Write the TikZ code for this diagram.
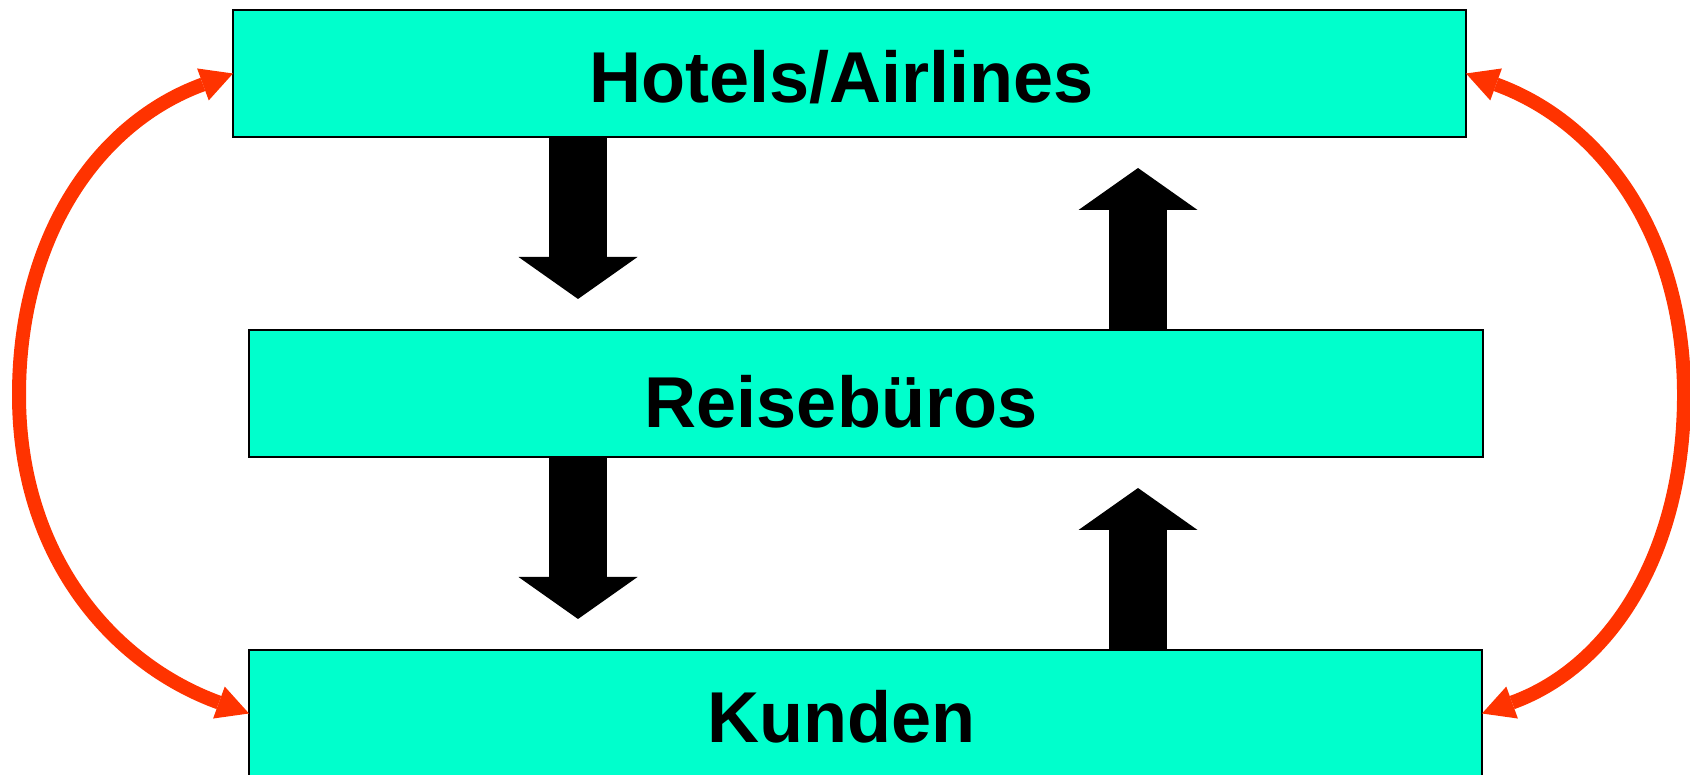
\documentclass[tikz,border=0pt]{standalone}
\usepackage{fontspec}
\setmainfont{Liberation Sans}
\usetikzlibrary{arrows.meta,positioning,calc}
\definecolor{boxgreen}{RGB}{0,255,204}
\definecolor{linkred}{RGB}{255,51,0}
\tikzset{
  stage/.style={rectangle, draw=black, line width=0.6pt, fill=boxgreen, minimum width=12.33cm, minimum height=1.27cm, inner sep=0pt, outer sep=0pt, text height=0.58cm, text depth=0pt, font=\bfseries\fontsize{20.5}{24}\selectfont},
  bigarrow/.style={line width=0.58cm, -{Triangle[length=0.42cm, width=1.19cm, line width=0pt]}},
  backlink/.style={draw=linkred, line width=0.14cm, {Triangle[length=0.32cm, width=0.34cm, line width=0pt]}-{Triangle[length=0.32cm, width=0.34cm, line width=0pt]}}
}
\begin{document}
\begin{tikzpicture}
\useasboundingbox (0,0) rectangle (16.90,-7.75);

% the three levels
\node[stage] (hotels) at (8.495,-0.735) {Hotels/Airlines\hspace*{0.16cm}};
\node[stage, minimum width=12.34cm, text height=0.69cm] (reise) at (8.66,-3.935) {Reisebüros\hspace*{0.5cm}};
\node[stage] (kunden) at (8.655,-7.135) {Kunden\hspace*{0.48cm}};

% flow between levels
\coordinate (down1) at (5.78,-2.99);
\coordinate (up1) at (11.38,-1.68);
\coordinate (down2) at (5.78,-6.19);
\coordinate (up2) at (11.38,-4.88);
\draw[bigarrow] (hotels.south -| down1) -- (down1);
\draw[bigarrow] (reise.north -| up1) -- (up1);
\draw[bigarrow] (reise.south -| down2) -- (down2);
\draw[bigarrow] (kunden.north -| up2) -- (up2);

% direct links around the middle
\coordinate (leftmid) at (0.19,-3.95);
\coordinate (rightmid) at (16.84,-3.95);
\draw[backlink] (hotels.west)
  to[out=200, in=90, out looseness=0.95, in looseness=1.05] (leftmid)
  to[out=-90, in=160, out looseness=1.05, in looseness=0.95] (kunden.west);
\draw[backlink] (hotels.east)
  to[out=-20, in=90, out looseness=0.95, in looseness=1.05] (rightmid)
  to[out=-90, in=20, out looseness=1.05, in looseness=0.95] (kunden.east);
\end{tikzpicture}
\end{document}
